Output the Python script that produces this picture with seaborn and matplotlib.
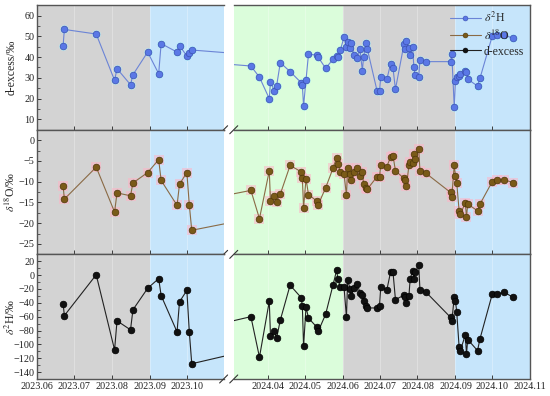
import matplotlib
matplotlib.use("Agg")
import matplotlib.pyplot as plt
import matplotlib.dates as mdates
from matplotlib.ticker import MultipleLocator, AutoMinorLocator
from matplotlib.lines import Line2D
import pandas as pd
import seaborn as sns

# ---- data ----
dates = [
    "2023-06-22", "2023-06-23", "2023-07-19", "2023-08-03", "2023-08-05",
    "2023-08-16", "2023-08-18", "2023-08-30", "2023-09-08", "2023-09-10",
    "2023-09-23", "2023-09-25", "2023-10-01", "2023-10-03", "2023-10-05",
    "2024-03-18", "2024-03-25", "2024-04-02", "2024-04-03", "2024-04-06",
    "2024-04-08", "2024-04-11", "2024-04-19", "2024-04-28", "2024-04-29",
    "2024-04-30", "2024-05-02", "2024-05-04", "2024-05-11", "2024-05-12",
    "2024-05-18", "2024-05-24", "2024-05-27", "2024-05-28", "2024-05-30",
    "2024-06-02", "2024-06-04", "2024-06-05", "2024-06-07", "2024-06-08",
    "2024-06-10", "2024-06-13", "2024-06-15", "2024-06-17", "2024-06-18",
    "2024-06-20", "2024-06-21", "2024-06-29", "2024-07-01", "2024-07-02",
    "2024-07-07", "2024-07-10", "2024-07-12", "2024-07-14", "2024-07-21",
    "2024-07-22", "2024-07-23", "2024-07-25", "2024-07-26", "2024-07-28",
    "2024-07-29", "2024-07-30", "2024-08-02", "2024-08-03", "2024-08-08",
    "2024-08-28", "2024-08-29", "2024-08-31", "2024-09-01", "2024-09-02",
    "2024-09-04", "2024-09-05", "2024-09-09", "2024-09-10", "2024-09-11",
    "2024-09-19", "2024-09-21", "2024-10-01", "2024-10-05", "2024-10-11",
    "2024-10-18",
]
d_excess = [
    45.5, 53.3, 51.1, 28.8, 34.4, 26.7, 31.5, 42.4, 32.0, 46.5,
    42.4, 45.5, 40.5, 42.1, 43.4,
    35.7, 30.3, 20.0, 28.0, 23.9, 26.1, 37.3, 33.0, 27.7, 26.4,
    16.5, 29.0, 41.3, 41.0, 39.9, 34.6, 38.9, 40.5, 39.9, 43.4,
    49.5, 45.0, 47.4, 44.2, 46.9, 41.0, 39.4, 43.7, 33.5, 40.2,
    46.6, 44.0, 23.7, 23.5, 30.6, 29.3, 36.7, 34.6, 24.5, 46.3,
    44.0, 47.6, 44.2, 41.0, 45.0, 35.4, 31.4, 30.6, 38.6, 37.8,
    37.8, 41.5, 15.9, 28.5, 30.6, 30.9, 31.9, 33.5, 33.0, 29.3,
    26.1, 29.8, 50.1, 50.6, 50.6, 49.0,
]
delta_18o = [
    -11.0, -14.2, -6.5, -17.3, -12.7, -13.4, -10.3, -7.8, -4.7, -9.7,
    -15.7, -10.6, -7.8, -15.6, -21.7,
    -12.1, -18.9, -7.4, -14.7, -13.4, -14.8, -13.0, -6.1, -7.6, -9.2,
    -16.3, -9.3, -13.1, -14.7, -15.5, -11.5, -6.8, -4.2, -5.7, -7.6,
    -8.2, -13.2, -6.8, -8.2, -9.6, -7.6, -6.6, -8.6, -7.6, -10.6,
    -11.6, -11.8, -8.8, -8.8, -6.1, -6.4, -4.0, -3.7, -7.4, -9.2,
    -9.6, -11.0, -6.1, -5.3, -5.5, -3.4, -4.5, -2.1, -7.4, -8.0,
    -12.6, -13.6, -6.0, -8.6, -10.2, -17.1, -17.7, -15.2, -18.5, -15.4,
    -17.0, -15.4, -10.0, -9.6, -9.6, -10.2,
]
delta_2h = [
    -41, -58.5, 0.5, -108, -66, -79, -50, -19, -5, -29.5,
    -82, -38.6, -22, -82, -128,
    -60, -118.5, -37.8, -87.5, -81, -91, -65, -14.5, -32.4, -44,
    -103, -46, -62, -75.5, -81, -56.6, -14.5, 7.2, -5.3, -17,
    -17, -60.5, -7.3, -19.8, -30.5, -19, -13, -25.6, -29, -37.8,
    -45, -47.4, -47.4, -44, -17.4, -21.2, 4.3, 4.3, -35.3, -29,
    -32, -40, -30.5, -5.3, 5.8, -5.3, 4.3, 14.5, -20.8, -24.7,
    -61, -66.8, -32, -37.8, -52.7, -104.5, -109, -86.6, -114, -93,
    -109, -92, -27.6, -27, -25, -32,
]

series_names = ["d-excess", "d18O", "d2H"]
legend_labels = [r"$\delta^{2}$H", r"$\delta^{18}$O", "d-excess"]
y_labels = ["d-excess/‰", r"$\delta^{18}$O/‰", r"$\delta^{2}$H/‰"]
y_limits = [(5, 65), (-27.5, 2.5), (-150, 30)]
y_steps = [10, 5, 20]

seg_limits = [("2023-06-01", "2023-10-31"), ("2024-03-04", "2024-11-01")]
seg_ticks = [pd.date_range("2023-06-01", "2023-10-01", freq="MS"),
             pd.date_range("2024-04-01", "2024-11-01", freq="MS")]
# seasonal bands (start, end, colour)
bands = [("2023-06-01", "2023-09-01", "#d3d3d3"),
         ("2023-09-01", "2023-11-15", "#c6e5fb"),
         ("2024-02-15", "2024-06-01", "#dbfddb"),
         ("2024-06-01", "2024-09-01", "#d3d3d3"),
         ("2024-09-01", "2024-11-15", "#c6e5fb")]

df = pd.DataFrame({"date": pd.to_datetime(dates), "d-excess": d_excess,
                   "d18O": delta_18o, "d2H": delta_2h})

line_colors = ["#6b84d6", "#8a6a45", "#222222"]
face_colors = ["#5a78e6", "#7a5a18", "#111111"]
edge_colors = ["#3a4fb0", "#4d3608", "#000000"]
glow_colors = ["#a8f4ff", "#ffb3c6", None]

sns.set_theme(style="ticks")
plt.rcParams["font.family"] = ["Liberation Serif", "DejaVu Serif"]
plt.rcParams["mathtext.fontset"] = "stix"
plt.rcParams["axes.unicode_minus"] = True

fig, axes = plt.subplots(3, 2, figsize=(5.5, 3.96), dpi=100,
                         gridspec_kw=dict(width_ratios=[152, 242], wspace=0.042,
                                          hspace=0))
fig.subplots_adjust(left=0.068, right=0.964, top=0.987, bottom=0.043)

frame = "#555555"
for r, col in enumerate(series_names):
    for c in range(2):
        ax = axes[r, c]
        for b0, b1, bc in bands:
            ax.axvspan(pd.Timestamp(b0), pd.Timestamp(b1), color=bc, lw=0, zorder=0)
        for t in seg_ticks[c]:
            ax.axvline(t, color="white", alpha=0.35, lw=0.6, zorder=0.5)
        if glow_colors[r]:
            ax.scatter(df["date"], df[col], s=55 if r == 1 else 40, marker="s" if r == 1 else "o",
                       color=glow_colors[r], alpha=0.55, lw=0, zorder=1)
        sns.lineplot(data=df, x="date", y=col, ax=ax, estimator=None, sort=False,
                     color=line_colors[r], lw=0.8, marker="o", markersize=4.8,
                     markerfacecolor=face_colors[r], markeredgecolor=edge_colors[r],
                     markeredgewidth=0.5, zorder=3)
        ax.set_xlim(pd.Timestamp(seg_limits[c][0]), pd.Timestamp(seg_limits[c][1]))
        ax.set_ylim(*y_limits[r])
        ax.set_xticks(seg_ticks[c])
        ax.xaxis.set_major_formatter(mdates.DateFormatter("%Y.%m"))
        ax.yaxis.set_major_locator(MultipleLocator(y_steps[r]))
        ax.yaxis.set_minor_locator(AutoMinorLocator(2))
        ax.tick_params(direction="in", length=3, width=0.6, labelsize=7.3,
                       colors="#222222", pad=2)
        ax.tick_params(which="minor", direction="in", length=1.8, width=0.5)
        ax.set_xlabel("")
        for s in ax.spines.values():
            s.set_color(frame)
            s.set_linewidth(1.0)
        if c == 0:
            ax.spines["right"].set_visible(False)
            ax.set_ylabel(y_labels[r], fontsize=8.5)
            ax.yaxis.set_label_coords(-0.105, 0.5)
        else:
            ax.spines["left"].set_visible(False)
            ax.tick_params(axis="y", which="both", left=False, labelleft=False)
            ax.set_ylabel("")
        if r < 2:
            ax.tick_params(axis="x", labelbottom=False)

        # break marks at the gap
        dx = 4.0 / (ax.get_position().width * 550)
        dy = 4.0 / (ax.get_position().height * 396)
        xb = 1 if c == 0 else 0
        ax.plot([xb - dx, xb + dx], [-dy, dy], transform=ax.transAxes,
                color="#333333", lw=0.8, clip_on=False, zorder=5)

handles = [Line2D([], [], color=line_colors[i], lw=0.8, marker="o", markersize=3.5,
                  markerfacecolor=face_colors[i], markeredgecolor=edge_colors[i],
                  markeredgewidth=0.4) for i in range(3)]
axes[0, 1].legend(handles, legend_labels, loc="upper right", frameon=False,
                  fontsize=8.5, handlelength=2.6, handletextpad=0.3,
                  borderaxespad=0.1, labelspacing=0.25)

fig.savefig("out.png", dpi=100)
